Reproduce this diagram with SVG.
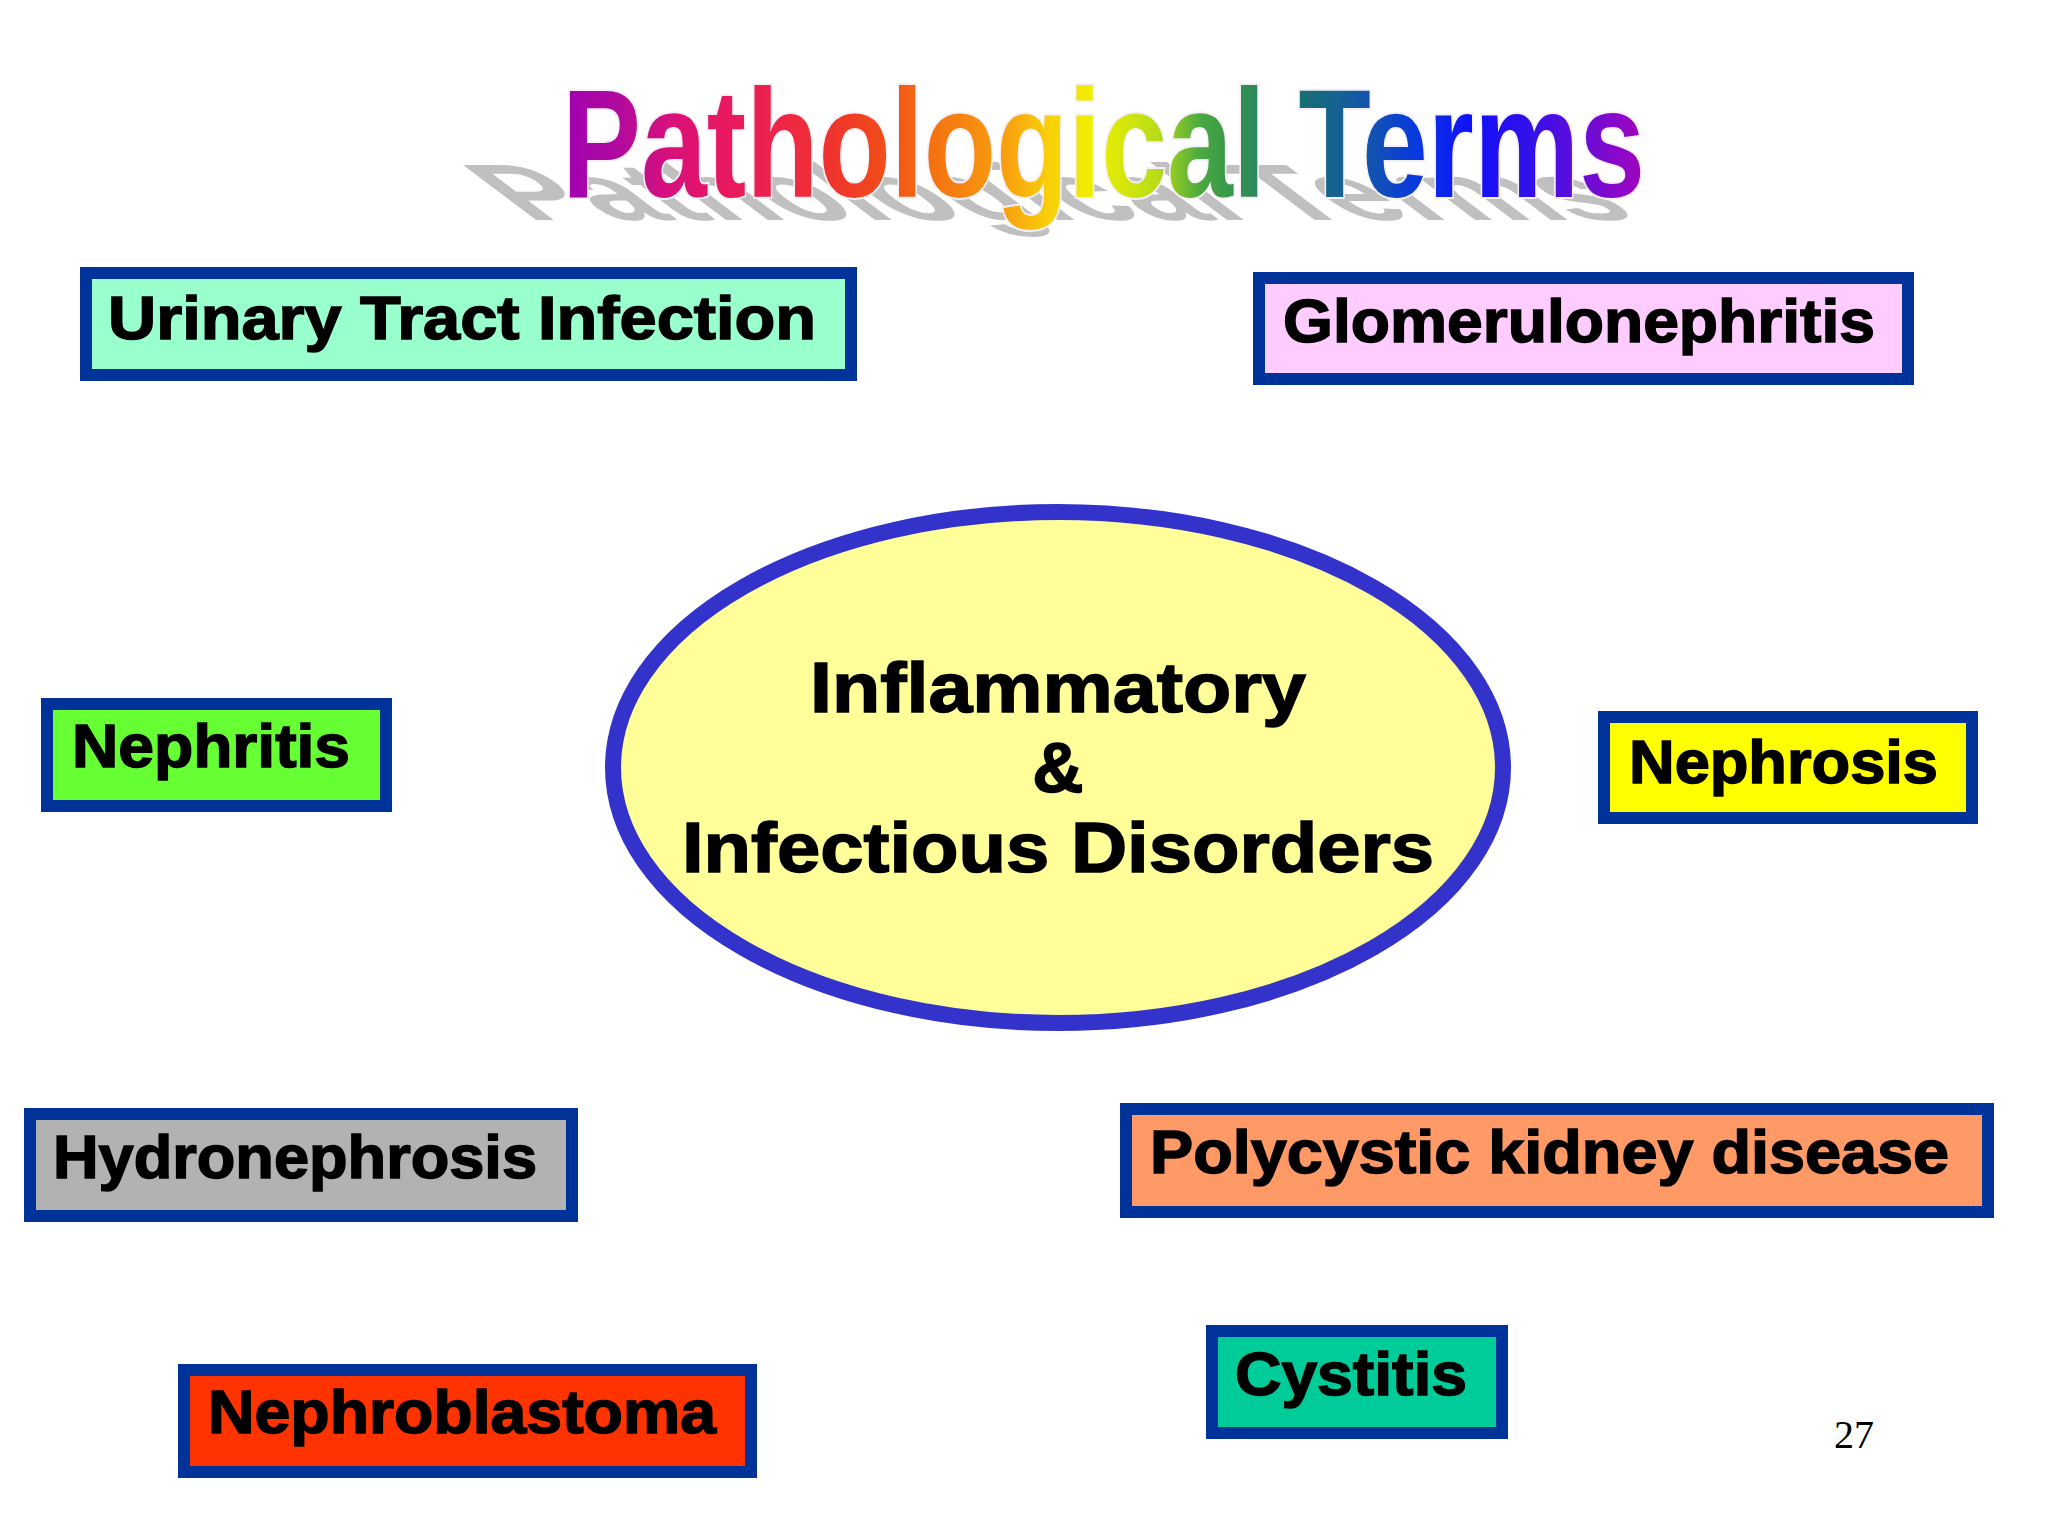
<svg xmlns="http://www.w3.org/2000/svg" width="2048" height="1536" viewBox="0 0 2048 1536">
  <defs>
    <linearGradient id="rainbow" gradientUnits="userSpaceOnUse" x1="562" y1="0" x2="1645" y2="0">
      <stop offset="0" stop-color="#a000b0"/>
      <stop offset="0.05" stop-color="#b00aa0"/>
      <stop offset="0.10" stop-color="#d8107a"/>
      <stop offset="0.15" stop-color="#e81860"/>
      <stop offset="0.20" stop-color="#ee2448"/>
      <stop offset="0.26" stop-color="#f03828"/>
      <stop offset="0.30" stop-color="#f05018"/>
      <stop offset="0.34" stop-color="#f47010"/>
      <stop offset="0.41" stop-color="#f8a010"/>
      <stop offset="0.45" stop-color="#f8d008"/>
      <stop offset="0.49" stop-color="#f0f000"/>
      <stop offset="0.55" stop-color="#b8dc18"/>
      <stop offset="0.59" stop-color="#48a840"/>
      <stop offset="0.68" stop-color="#187070"/>
      <stop offset="0.74" stop-color="#1458a8"/>
      <stop offset="0.79" stop-color="#0838e0"/>
      <stop offset="0.84" stop-color="#1010f8"/>
      <stop offset="0.90" stop-color="#3810e8"/>
      <stop offset="0.98" stop-color="#9008c8"/>
      <stop offset="1" stop-color="#a000b8"/>
    </linearGradient>
  </defs>
  <style>
    .box { stroke: #003399; stroke-width: 12; }
    .lbl { font-family: "Liberation Sans", Arial, sans-serif; font-weight: bold; font-size: 61px; fill: #000; stroke: #000; stroke-width: 1.5; }
    .title { font-family: "Liberation Sans", Arial, sans-serif; font-weight: bold; font-size: 154px; }
    .center { font-family: "Liberation Sans", Arial, sans-serif; font-weight: bold; font-size: 71px; fill: #000; stroke: #000; stroke-width: 1.5; text-anchor: middle; }
  </style>
  <rect x="0" y="0" width="2048" height="1536" fill="#ffffff"/>

  <g id="title">
    <text class="title" fill="#c0c0c0" x="0" y="0" textLength="1115" lengthAdjust="spacingAndGlyphs" transform="translate(528,220) skewX(53) scale(1,0.52)">Pathological Terms</text>
    <text class="title" fill="url(#rainbow)" stroke="#f6f0f6" stroke-width="4" paint-order="stroke" x="562" y="197" textLength="1083" lengthAdjust="spacingAndGlyphs">Pathological Terms</text>
  </g>

  <g id="connectors"/>

  <g id="center">
    <ellipse cx="1058" cy="767.5" rx="445" ry="255.5" fill="#ffff99" stroke="#3333cc" stroke-width="16"/>
    <text class="center" x="1058" y="712" textLength="496" lengthAdjust="spacingAndGlyphs">Inflammatory</text>
    <text class="center" x="1058" y="792">&amp;</text>
    <text class="center" x="1058" y="872" textLength="752" lengthAdjust="spacingAndGlyphs">Infectious Disorders</text>
  </g>

  <g id="uti">
    <rect class="box" x="86" y="273" width="765" height="102" fill="#99ffcc"/>
    <text class="lbl" x="108" y="339" textLength="708" lengthAdjust="spacingAndGlyphs">Urinary Tract Infection</text>
  </g>
  <g id="glomerulonephritis">
    <rect class="box" x="1259" y="278" width="649" height="101" fill="#ffccff"/>
    <text class="lbl" x="1283" y="342" textLength="592" lengthAdjust="spacingAndGlyphs">Glomerulonephritis</text>
  </g>
  <g id="nephritis">
    <rect class="box" x="47" y="704" width="339" height="102" fill="#66ff33"/>
    <text class="lbl" x="72" y="767" textLength="278" lengthAdjust="spacingAndGlyphs">Nephritis</text>
  </g>
  <g id="nephrosis">
    <rect class="box" x="1604" y="717" width="368" height="101" fill="#ffff00"/>
    <text class="lbl" x="1629" y="783" textLength="309" lengthAdjust="spacingAndGlyphs">Nephrosis</text>
  </g>
  <g id="hydronephrosis">
    <rect class="box" x="30" y="1114" width="542" height="102" fill="#b2b2b2"/>
    <text class="lbl" x="53" y="1178" textLength="484" lengthAdjust="spacingAndGlyphs">Hydronephrosis</text>
  </g>
  <g id="polycystic">
    <rect class="box" x="1126" y="1109" width="862" height="103" fill="#ff9966"/>
    <text class="lbl" x="1150" y="1173" textLength="799" lengthAdjust="spacingAndGlyphs">Polycystic kidney disease</text>
  </g>
  <g id="nephroblastoma">
    <rect class="box" x="184" y="1370" width="567" height="102" fill="#ff3300"/>
    <text class="lbl" x="208" y="1433" textLength="508" lengthAdjust="spacingAndGlyphs">Nephroblastoma</text>
  </g>
  <g id="cystitis">
    <rect class="box" x="1212" y="1331" width="290" height="102" fill="#00cc99"/>
    <text class="lbl" x="1235" y="1395" textLength="232" lengthAdjust="spacingAndGlyphs">Cystitis</text>
  </g>

  <text x="1854" y="1448" font-family="'Liberation Serif', 'Times New Roman', serif" font-size="40" text-anchor="middle" fill="#000">27</text>
</svg>
